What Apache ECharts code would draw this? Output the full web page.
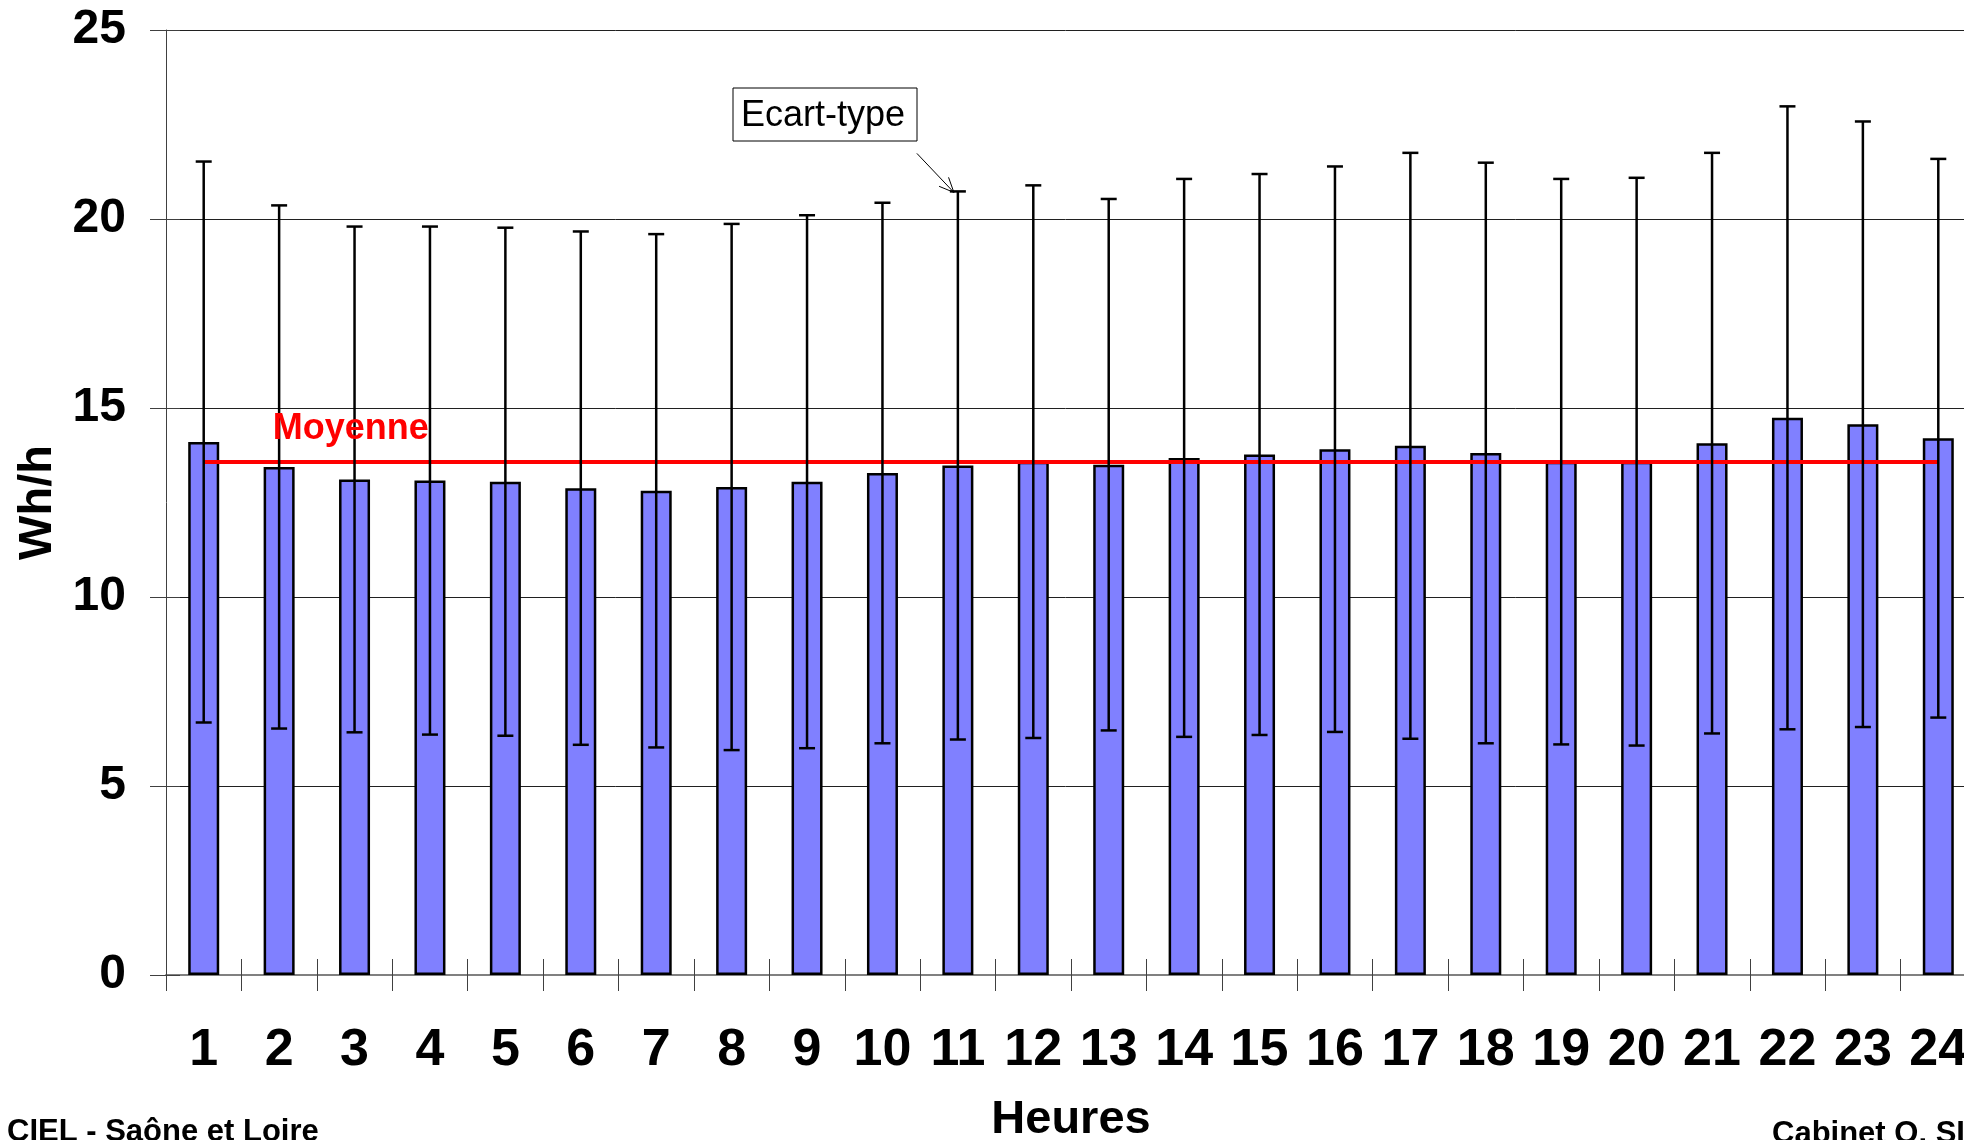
<!DOCTYPE html>
<html><head><meta charset="utf-8">
<script src="https://cdn.jsdelivr.net/npm/echarts@6/dist/echarts.min.js"></script>
<style>html,body{margin:0;padding:0;background:#fff;overflow:hidden}#c{width:1964px;height:1140px}</style>
</head><body><div id="c"></div>
<script>
// ---- data ----
const hours = ['1','2','3','4','5','6','7','8','9','10','11','12','13','14','15','16','17','18','19','20','21','22','23','24'];
const meanValues = [14.10,13.44,13.11,13.08,13.05,12.88,12.81,12.91,13.05,13.28,13.48,13.58,13.50,13.68,13.77,13.91,14.00,13.81,13.58,13.58,14.07,14.74,14.57,14.20];
const stdDev = [7.42,6.92,6.69,6.72,6.72,6.79,6.79,6.96,7.05,7.15,7.25,7.31,7.03,7.38,7.42,7.48,7.75,7.68,7.48,7.51,7.68,8.24,8.01,7.39];
const overallMean = 13.57;
const yMin = 0, yMax = 25, yStep = 5;
const meanLabel = 'Moyenne';
const sdLabel = 'Ecart-type';
const xTitle = 'Heures';
const yTitle = 'Wh/h';
const footLeft = 'CIEL - Saône et Loire';
const footRight = 'Cabinet O. SIDLER';

const FONT = "'Liberation Sans', Arial, Helvetica, sans-serif";

const chart = echarts.init(document.getElementById('c'), null, {renderer: 'canvas'});

const errData = hours.map((h, i) => [i, meanValues[i] - stdDev[i], meanValues[i] + stdDev[i]]);

const option = {
  animation: false,
  backgroundColor: '#fff',
  grid: {left: 166, top: 30, width: 1810, height: 945, containLabel: false, outerBoundsMode: 'none'},
  xAxis: [{
    type: 'category', data: hours, position: 'bottom',
    axisLine: {show: true, lineStyle: {color: '#808080', width: 2}},
    axisTick: {show: true, inside: false, length: 16, interval: 0, lineStyle: {color: '#404040', width: 1}},
    axisLabel: {show: true, interval: 0, margin: 50, fontFamily: FONT, fontWeight: 'bold', fontSize: 52, color: '#000'},
    name: xTitle, nameLocation: 'middle', nameGap: 122, nameMoveOverlap: false,
    nameTextStyle: {fontFamily: FONT, fontWeight: 'bold', fontSize: 47, color: '#000'}
  }, {
    type: 'category', data: hours, position: 'bottom', offset: 0,
    axisLine: {show: false},
    axisTick: {show: true, inside: true, length: 16, interval: 0, lineStyle: {color: '#404040', width: 1}},
    axisLabel: {show: false, interval: 0}
  }],
  yAxis: [{
    type: 'value', min: yMin, max: yMax, interval: yStep, position: 'left',
    axisLine: {show: true, lineStyle: {color: '#404040', width: 1}},
    axisTick: {show: true, inside: false, length: 16, lineStyle: {color: '#404040', width: 1}},
    splitLine: {show: true, lineStyle: {color: '#202020', width: 1}},
    axisLabel: {margin: 40, fontFamily: FONT, fontWeight: 'bold', fontSize: 48, color: '#000'},
    name: yTitle, nameLocation: 'middle', nameGap: 104, nameRotate: 90, nameMoveOverlap: false,
    nameTextStyle: {fontFamily: FONT, fontWeight: 'bold', fontSize: 47, color: '#000'}
  }, {
    type: 'value', min: yMin, max: yMax, interval: yStep, position: 'left', offset: 0,
    axisLine: {show: false},
    axisTick: {show: true, inside: true, length: 14, lineStyle: {color: '#404040', width: 1}},
    splitLine: {show: false},
    axisLabel: {show: false}
  }],
  series: [{
    type: 'bar', data: meanValues, xAxisIndex: 0, yAxisIndex: 0,
    barWidth: 31,
    itemStyle: {color: '#8080FF', borderColor: '#000', borderWidth: 2.5},
    markLine: {
      silent: true, symbol: 'none', animation: false,
      lineStyle: {color: '#FF0000', width: 4, type: 'solid'},
      label: {show: false},
      data: [[{coord: [hours[0], overallMean]}, {coord: [hours[hours.length - 1], overallMean]}]]
    },
    z: 2
  }, {
    type: 'custom', xAxisIndex: 0, yAxisIndex: 0, z: 5,
    data: errData,
    renderItem: function (params, api) {
      const top = api.coord([api.value(0), api.value(2)]);
      const bot = api.coord([api.value(0), api.value(1)]);
      const hw = 8;
      const st = {stroke: '#000', lineWidth: 2.5};
      return {type: 'group', children: [
        {type: 'line', shape: {x1: top[0], y1: top[1], x2: bot[0], y2: bot[1]}, style: st},
        {type: 'line', shape: {x1: top[0] - hw, y1: top[1], x2: top[0] + hw, y2: top[1]}, style: st},
        {type: 'line', shape: {x1: bot[0] - hw, y1: bot[1], x2: bot[0] + hw, y2: bot[1]}, style: st}
      ]};
    }
  }]
};
chart.setOption(option);

// annotations positioned from the axes
const meanStart = chart.convertToPixel({xAxisIndex: 0, yAxisIndex: 0}, [0, overallMean]);
const capPt = chart.convertToPixel({xAxisIndex: 0, yAxisIndex: 0}, [10, meanValues[10] + stdDev[10]]);
const tip = [capPt[0] - 4, capPt[1] + 1];
const start = [tip[0] - 37, tip[1] - 39];
const dx = tip[0] - start[0], dy = tip[1] - start[1];
const len = Math.sqrt(dx * dx + dy * dy);
const ux = dx / len, uy = dy / len;
const headLen = 16, ang = 0.42;
function rot(x, y, a) { return [x * Math.cos(a) - y * Math.sin(a), x * Math.sin(a) + y * Math.cos(a)]; }
const h1 = rot(-ux, -uy, ang), h2 = rot(-ux, -uy, -ang);

chart.setOption({
  graphic: [
    {type: 'text', x: meanStart[0] + 69, y: meanStart[1] - 33, z: 10,
     style: {text: meanLabel, fill: '#FF0000', font: "bold 36px " + FONT, verticalAlign: 'middle'}},
    {type: 'rect', shape: {x: 733, y: 88, width: 184, height: 53}, z: 10,
     style: {fill: '#fff', stroke: '#000', lineWidth: 1}},
    {type: 'text', x: 741, y: 116, z: 11,
     style: {text: sdLabel, fill: '#000', font: "36px " + FONT, verticalAlign: 'middle'}},
    {type: 'line', z: 10, shape: {x1: start[0], y1: start[1], x2: tip[0], y2: tip[1]}, style: {stroke: '#000', lineWidth: 1}},
    {type: 'polyline', z: 10, shape: {points: [[tip[0] + h1[0] * headLen, tip[1] + h1[1] * headLen], tip, [tip[0] + h2[0] * headLen, tip[1] + h2[1] * headLen]]},
     style: {stroke: '#000', lineWidth: 1, fill: null}},
    {type: 'text', x: 7, y: 1132, z: 10,
     style: {text: footLeft, fill: '#000', font: "bold 31px " + FONT, verticalAlign: 'middle'}},
    {type: 'text', x: 1772, y: 1134, z: 10,
     style: {text: footRight, fill: '#000', font: "bold 31px " + FONT, verticalAlign: 'middle'}}
  ]
});
</script></body></html>
